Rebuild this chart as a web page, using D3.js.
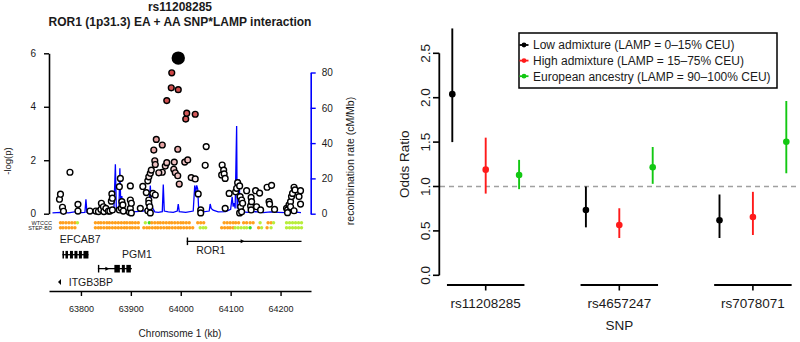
<!DOCTYPE html>
<html><head><meta charset="utf-8">
<script src="https://cdn.jsdelivr.net/npm/d3@7"></script>
<style>body{margin:0;background:#fff}svg{display:block;font-family:"Liberation Sans",Arial,Helvetica,sans-serif}</style>
</head><body><svg id="c" width="800" height="342"></svg>
<script>
// ---------------- DATA ----------------
const titleLines = ["rs11208285", "ROR1 (1p31.3) EA + AA SNP*LAMP interaction"];
const chromTicks = [63800, 63900, 64000, 64100, 64200];
const logpTicks = [0, 2, 4, 6];
const recombTicks = [0, 20, 40, 60, 80];

const indexSnpKb = 63995, indexSnpLogP = 5.82;
const snpKb = [
 63757,63759,63763,63765,63778,63794,63794,63818,63830,63835,
 63840,63841,63845,63846,63850,63855,63858,63861,63862,63863,
 63863,63877,63877,63879,63881,63882,63884,63885,63897,63899,
 63899,63899,63901,63901,63919,63924,63931,63934,63934,63936,
 63936,63936,63938,63939,63939,63941,63944,63946,63948,63949,
 63949,63951,63956,63963,63963,63969,63972,63972,63981,63982,
 63986,63987,63989,63994,63994,63995,63997,64008,64010,64012,
 64014,64021,64029,64029,64035,64040,64040,64049,64051,64082,
 64083,64086,64087,64089,64089,64097,64110,64112,64114,64118,
 64118,64119,64120,64122,64122,64124,64132,64140,64141,64141,
 64142,64150,64152,64158,64160,64173,64177,64178,64182,64188,
 64212,64214,64214,64217,64220,64220,64222,64224,64227,64227,
 64229,64237,64240,64240];
const snpLogP = [
 0.54,0.73,0.24,0.09,1.55,0.35,0.10,0.10,0.10,0.08,
 0.16,0.39,0.26,0.08,0.20,0.10,0.10,0.47,0.74,0.58,
 0.14,1.01,0.14,1.32,0.20,0.45,0.33,0.10,0.06,1.04,
 0.51,0.20,0.39,0.03,0.20,1.02,0.79,1.23,0.11,0.51,
 0.39,1.38,0.26,0.03,1.51,1.63,0.76,2.38,1.98,0.70,
 1.84,2.78,1.53,2.57,1.55,1.78,1.91,4.23,4.71,5.27,
 1.66,1.93,1.53,1.42,2.41,4.64,1.11,1.93,3.54,3.76,
 2.01,1.35,1.30,3.72,0.74,0.14,0.03,1.81,2.51,1.45,
 1.82,1.63,1.49,1.32,0.20,0.76,0.82,0.95,1.16,1.04,
 0.03,0.64,0.26,0.51,0.07,0.39,0.86,0.29,0.61,0.14,
 0.45,0.86,0.26,0.77,0.14,0.99,0.45,0.36,1.06,0.16,
 0.20,0.14,0.04,0.33,0.45,0.26,0.64,0.76,0.99,0.11,
 0.89,0.64,0.86,0.36];
const snpR2 = [
 0,0,0,0,0,0,0,0,0,0,
 0,0,0,0,0,0,0,0,0,0,
 0,0,0,0,0,0,0,0,0,0,
 0,0,0,0,0,0,0,0,0,0,
 0,0.1,0,0,0.1,0.1,0,0.4,0.3,0,
 0.3,0.45,0.25,0.45,0.2,0.25,0.3,0.85,0.85,0.9,
 0.25,0.3,0.3,0.3,0.4,0.85,0.35,0.3,0.8,0.8,
 0.3,0.1,0.1,0.8,0,0,0,0,0,0,
 0,0,0,0,0,0,0,0,0,0,
 0,0,0,0,0,0,0,0,0,0,
 0,0,0,0,0,0,0,0,0,0,
 0,0,0,0,0,0,0,0,0,0,
 0,0,0,0];

const recombKb = [63743,63760,63775,63790,63800,63808,63810,63812,63830,63845,63855,63866,63869,63871,63874,63876,63878,63880,63882,63884,63895,63910,63925,63936,63939,63941,63944,63948,63955,63963,63965,63967,63975,63985,63993,63995,63997,64010,64025,64028,64030,64032,64034,64036,64045,64057,64059,64061,64065,64075,64090,64100,64103,64105,64107,64109,64112,64113,64115,64117,64119,64121,64123,64135,64150,64165,64180,64195,64210,64225,64241];
const recombRate = [0.5,0.8,0.5,1.2,0.6,0.8,8.2,0.8,0.5,1.0,0.6,1.5,28,2,3,2,25.7,3,10,1,0.7,1.2,1.5,3,16,6,3,1,0.8,1.2,16.5,1.5,1,0.8,1.5,5.5,1.2,0.8,1.5,16,12,16,14,2,1,1.5,5.5,3,2,1,1.2,2.5,9.6,4,6,3,49.7,3,8,19.5,3,5,1,0.8,1.2,0.6,1,0.8,0.6,1,0.6];

const trackNames = ["WTCCC", "STEP-BD"];
const wtcccKb = [63759,63764,63770,63776,63782,63788,63793,63829,63835,63840,63846,63852,63857,63863,63869,63875,63881,63887,63892,63898,63903,63909,63915,63929,63937,63942,63948,63954,63959,63965,63971,63977,63982,63988,63994,64000,64005,64011,64017,64034,64040,64046,64087,64093,64099,64105,64110,64116,64126,64132,64139,64145,64159,64175,64181,64186,64212,64218,64224,64230,64236,64242];
const wtcccType = "oooooo" + "y" + "oooooooooooooooo" + "yg" + "oooooooooooooo" + "ooo" + "oooooo" + "oooo" + "y" + "oo" + "y" + "yyyyyy";
const stepbdKb = [63759,63764,63770,63776,63782,63788,63829,63835,63840,63846,63852,63857,63863,63869,63875,63881,63887,63892,63898,63903,63909,63915,63926,63932,63937,63943,63949,63954,63960,63966,63972,63977,63983,63989,63995,64000,64006,64012,64018,64024,64039,64045,64050,64082,64088,64094,64099,64105,64109,64115,64121,64127,64132,64139,64156,64162,64173,64181,64212,64218,64224,64230,64236,64242];
const stepbdType = "oooooo" + "oooooooooooooooo" + "oooooooooooooooooo" + "yyy" + "ooooo" + "yyyyy" + "g" + "oy" + "oy" + "yyyyyy";

const geneNames = ["EFCAB7", "PGM1", "ITGB3BP", "ROR1"];
const geneStart = [63763, 63834, 63700, 64012];
const geneEnd = [63815, 63902, 63760, 64242];
const geneStrand = ["+", "+", "-", "+"];
const geneExons = [
  [[63763,63766],[63769,63774],[63778,63784],[63787,63793],[63796,63802],[63805,63815]],
  [[63834,63835.5],[63867,63878],[63882,63888],[63891,63900]],
  [],
  [[64012,64013.5]]];

const snpNames = ["rs11208285", "rs4657247", "rs7078071"];
const groupNames = ["Low admixture (LAMP = 0\u201315% CEU)", "High admixture (LAMP = 15\u201375% CEU)", "European ancestry (LAMP = 90\u2013100% CEU)"];
const orLow  = [2.04, 0.735, 0.62];
const loLow  = [1.50, 0.54, 0.42];
const hiLow  = [2.78, 1.00, 0.91];
const orHigh = [1.19, 0.566, 0.657];
const loHigh = [0.92, 0.42, 0.454];
const hiHigh = [1.55, 0.755, 0.94];
const orEur  = [1.13, 1.216, 1.504];
const loEur  = [0.97, 1.03, 1.149];
const hiEur  = [1.30, 1.445, 1.963];
const orTicks = [0, 0.5, 1.0, 1.5, 2.0, 2.5];

// ---------------- LAYOUT / STYLE ----------------
const svg = d3.select("#c");
const TXT = "#1a1a1a";
const xL = d3.scaleLinear().domain([63736, 64261]).range([49, 311]);
const yL = d3.scaleLinear().domain([0, 6]).range([213.7, 53.3]);
const yRec = d3.scaleLinear().domain([0, 80]).range([213.7, 72.5]);

// titles
svg.append("text").attr("x", 180).attr("y", 11).attr("text-anchor", "middle")
  .attr("font-weight", "bold").attr("font-size", 12).attr("fill", TXT).text(titleLines[0]);
svg.append("text").attr("x", 180).attr("y", 26.3).attr("text-anchor", "middle")
  .attr("font-weight", "bold").attr("font-size", 12).attr("fill", TXT).text(titleLines[1]);

// recombination line
const recLine = d3.line().x(d => xL(d[0])).y(d => yRec(d[1]));
svg.append("path").datum(recombKb.map((k, i) => [k, recombRate[i]]))
  .attr("d", recLine).attr("fill", "none").attr("stroke", "#0000ff").attr("stroke-width", 1.3);

// axes
function styleAxis(g, color, fs) {
  g.select(".domain").attr("stroke", color).attr("stroke-width", 1.6);
  g.selectAll(".tick line").attr("stroke", color).attr("stroke-width", 1.4);
  g.selectAll(".tick text").attr("fill", TXT).attr("font-size", fs)
    .attr("font-family", '"Liberation Sans",Arial,sans-serif');
}
const gyL = svg.append("g").attr("transform", "translate(49,0)")
  .call(d3.axisLeft(yL).tickValues(logpTicks).tickFormat(d3.format("d")).tickSize(5).tickSizeOuter(0).tickPadding(8));
styleAxis(gyL, "#000", 10);
const gyR = svg.append("g").attr("transform", "translate(310.7,0)")
  .call(d3.axisRight(yRec).tickValues(recombTicks).tickFormat(d3.format("d")).tickSize(5).tickSizeOuter(0).tickPadding(6));
styleAxis(gyR, "#0000ff", 10);
svg.append("text").attr("transform", "translate(11,161) rotate(-90)").attr("text-anchor", "middle")
  .attr("font-size", 9.5).attr("fill", TXT).text("-log(p)");
svg.append("text").attr("transform", "translate(353.5,161) rotate(-90)").attr("text-anchor", "middle")
  .attr("font-size", 10.5).attr("fill", TXT).text("recombination rate (cM/Mb)");

// SNP points
const fillScale = d3.interpolateRgb("#ffffff", "#c83030");
const idx = d3.range(snpKb.length).sort((a, b) => snpR2[a] - snpR2[b]);
svg.append("g").selectAll("circle").data(idx).join("circle")
  .attr("cx", i => xL(snpKb[i])).attr("cy", i => yL(snpLogP[i])).attr("r", 2.9)
  .attr("fill", i => fillScale(snpR2[i])).attr("stroke", "#000").attr("stroke-width", 1.4);
svg.append("circle").attr("cx", xL(indexSnpKb)).attr("cy", yL(indexSnpLogP)).attr("r", 6.7).attr("fill", "#000");

// study tracks
const trackY = [222.7, 227.7];
const typeColor = {o: "#ffa01e", y: "#b8ee3c", g: "#3ddc1e"};
[[wtcccKb, wtcccType], [stepbdKb, stepbdType]].forEach((t, r) => {
  svg.append("g").selectAll("circle").data(t[0]).join("circle")
    .attr("cx", d => xL(d)).attr("cy", trackY[r]).attr("r", 1.7)
    .attr("fill", (d, i) => typeColor[t[1][i]]);
  svg.append("text").attr("x", 52).attr("y", trackY[r] + 2).attr("text-anchor", "end")
    .attr("font-size", 5.5).attr("fill", TXT).text(trackNames[r]);
});

// genes
const geneY = [254.7, 268.7, 282, 241.3];
const labelX = [63757.6, 63882.4, 63775.6, 64031];
const labelY = [242.5, 258.1, 285.8, 254.1];
geneNames.forEach((name, i) => {
  const y = geneY[i];
  const s = Math.max(geneStart[i], xL.domain()[0]);
  if (geneStrand[i] === "-" && geneStart[i] < xL.domain()[0]) {
    const xe = xL(geneEnd[i]);
    svg.append("path").attr("d", `M${xe - 3},${y} L${xe},${y - 3} L${xe},${y + 3} Z`).attr("fill", "#000");
  } else {
    svg.append("line").attr("x1", xL(s)).attr("x2", xL(geneEnd[i])).attr("y1", y).attr("y2", y)
      .attr("stroke", "#000").attr("stroke-width", 1.3);
    geneExons[i].forEach(e => {
      svg.append("rect").attr("x", xL(e[0])).attr("y", y - 3.8)
        .attr("width", Math.max(1.4, xL(e[1]) - xL(e[0]))).attr("height", 7.6).attr("fill", "#000");
    });
    const mid = name === "ROR1" ? xL(64125) : (name === "PGM1" ? xL(63854) : null);
    if (mid) svg.append("path").attr("d", `M${mid - 2.5},${y - 2} L${mid + 1.5},${y} L${mid - 2.5},${y + 2} Z`).attr("fill", "#000");
  }
  svg.append("text").attr("x", xL(labelX[i])).attr("y", labelY[i]).attr("font-size", 10.5)
    .attr("fill", TXT).text(name);
});

// chromosome axis
const gx = svg.append("g").attr("transform", "translate(0,291)")
  .call(d3.axisBottom(xL).tickValues(chromTicks).tickFormat(d3.format("d")).tickSize(5).tickSizeOuter(0).tickPadding(10));
styleAxis(gx, "#000", 9);
svg.append("text").attr("x", 180).attr("y", 337).attr("text-anchor", "middle").attr("font-size", 10)
  .attr("fill", TXT).text("Chromsome 1 (kb)");

// ---------------- RIGHT PANEL ----------------
const xO = d3.scaleLinear().domain([0, 12]).range([418.9, 819.7]);
const yO = d3.scaleLinear().domain([0, 2.5]).range([275.3, 53.3]);
const colors = ["#000000", "#ff1a1a", "#12c812"];
const series = [[orLow, loLow, hiLow], [orHigh, loHigh, hiHigh], [orEur, loEur, hiEur]];

svg.append("line").attr("x1", 440).attr("x2", 800).attr("y1", yO(1)).attr("y2", yO(1))
  .attr("stroke", "#a0a0a0").attr("stroke-width", 1.3).attr("stroke-dasharray", "5,4");

svg.append("line").attr("x1", 439.3).attr("x2", 439.3).attr("y1", yO(0)).attr("y2", yO(2.5))
  .attr("stroke", "#000").attr("stroke-width", 1.8);
orTicks.forEach(t => {
  svg.append("line").attr("x1", 433).attr("x2", 439.3).attr("y1", yO(t)).attr("y2", yO(t))
    .attr("stroke", "#000").attr("stroke-width", 1.6);
  svg.append("text").attr("transform", `translate(430,${yO(t)}) rotate(-90)`).attr("text-anchor", "middle")
    .attr("font-size", 13.5).attr("fill", TXT).text(d3.format(".1f")(t));
});
svg.append("text").attr("transform", `translate(408.5,${yO(1.25)}) rotate(-90)`).attr("text-anchor", "middle")
  .attr("font-size", 13.5).attr("fill", TXT).text("Odds Ratio");

snpNames.forEach((name, g) => {
  const c = 4 * g + 2;
  svg.append("line").attr("x1", xO(c - 1.16)).attr("x2", xO(c + 1.16)).attr("y1", 285).attr("y2", 285)
    .attr("stroke", "#000").attr("stroke-width", 1.8);
  svg.append("line").attr("x1", xO(c)).attr("x2", xO(c)).attr("y1", 285).attr("y2", 290.5)
    .attr("stroke", "#000").attr("stroke-width", 1.6);
  svg.append("text").attr("x", xO(c)).attr("y", 307.5).attr("text-anchor", "middle")
    .attr("font-size", 13.5).attr("fill", TXT).text(name);
});
svg.append("text").attr("x", xO(6)).attr("y", 330).attr("text-anchor", "middle")
  .attr("font-size", 13.5).attr("fill", TXT).text("SNP");

series.forEach((s, k) => {
  snpNames.forEach((name, g) => {
    const x = xO(4 * g + 1 + k);
    svg.append("line").attr("x1", x).attr("x2", x).attr("y1", yO(s[1][g])).attr("y2", yO(s[2][g]))
      .attr("stroke", colors[k]).attr("stroke-width", 1.9);
    svg.append("circle").attr("cx", x).attr("cy", yO(s[0][g])).attr("r", 3.3).attr("fill", colors[k]);
  });
});

svg.append("rect").attr("x", 519).attr("y", 33).attr("width", 258).attr("height", 55)
  .attr("fill", "#fff").attr("stroke", "#000").attr("stroke-width", 1.5);
groupNames.forEach((name, k) => {
  const y = 45 + k * 15.6;
  svg.append("line").attr("x1", 519.5).attr("x2", 528.5).attr("y1", y).attr("y2", y)
    .attr("stroke", colors[k]).attr("stroke-width", 1.8);
  svg.append("circle").attr("cx", 524).attr("cy", y).attr("r", 2.4).attr("fill", colors[k]);
  svg.append("text").attr("x", 533).attr("y", y + 4.3).attr("font-size", 12).attr("fill", TXT).text(name);
});
</script></body></html>
